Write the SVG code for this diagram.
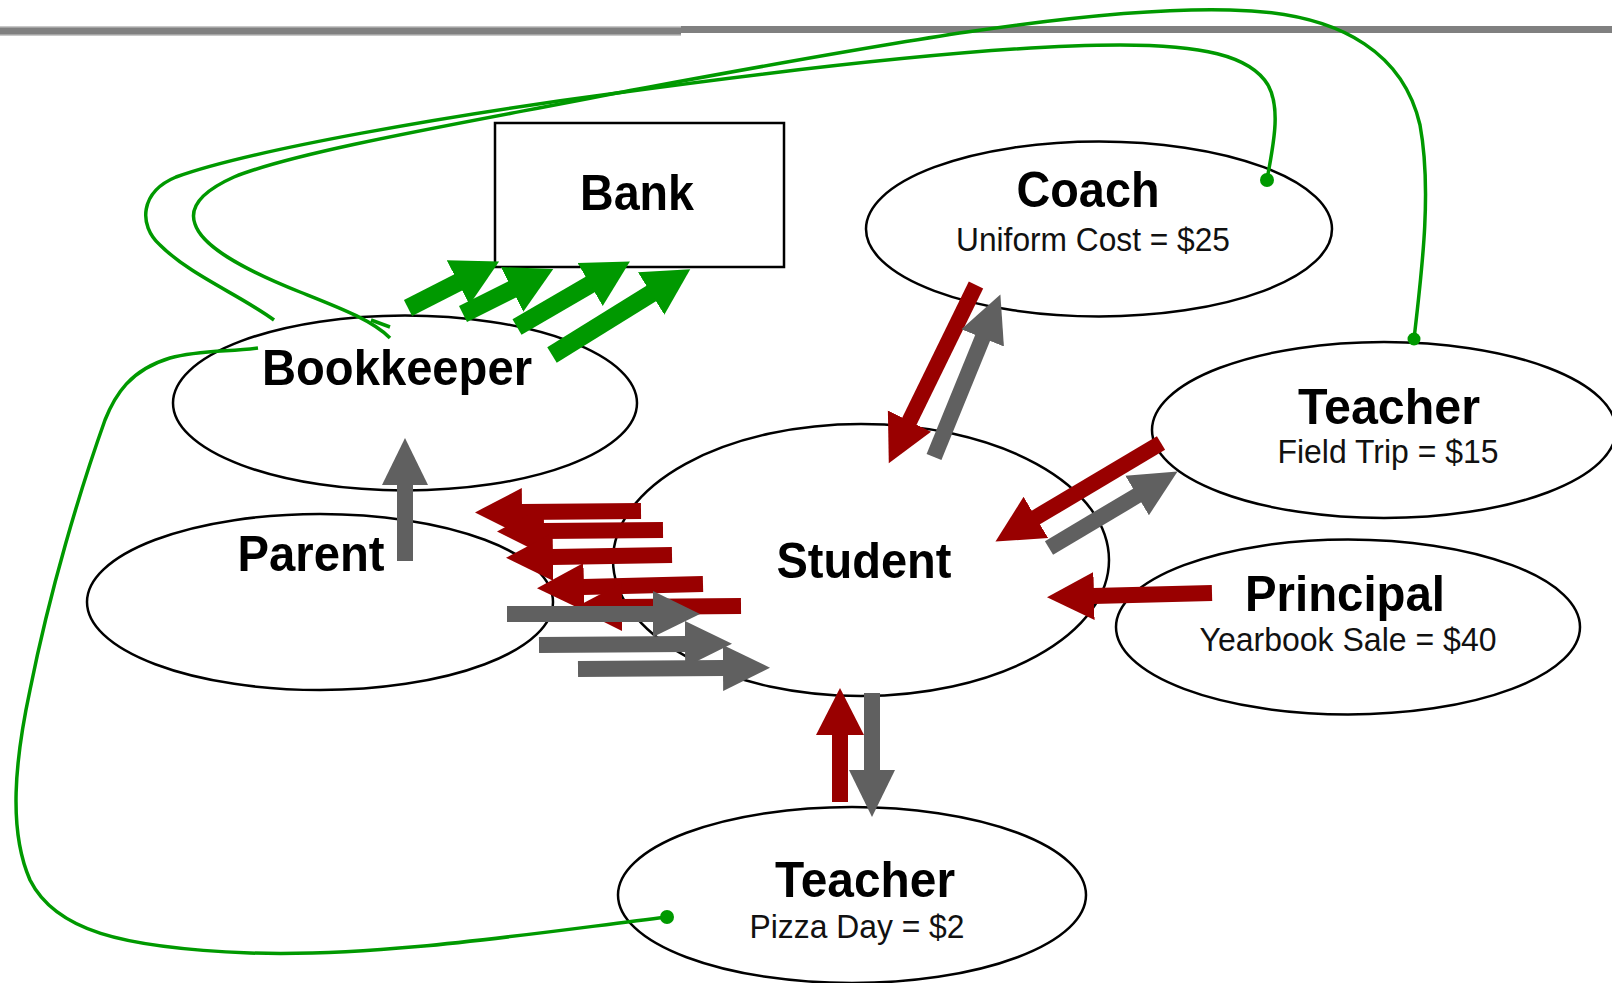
<svg xmlns="http://www.w3.org/2000/svg" width="1612" height="983" viewBox="0 0 1612 983">
<style>
.node{fill:#fff;stroke:#000;stroke-width:2.5}
.title{font-family:"Liberation Sans",Arial,sans-serif;font-weight:bold;font-size:50px;fill:#000;text-anchor:middle}
.sub{font-family:"Liberation Sans",Arial,sans-serif;font-size:33px;fill:#111;text-anchor:middle}
.red{stroke:#990000;stroke-width:16;fill:none;marker-end:url(#hRed)}
.gray{stroke:#606060;stroke-width:16;fill:none;marker-end:url(#hGray)}
.green{stroke:#009900;stroke-width:18;fill:none;marker-end:url(#hGreen)}
.wire{stroke:#009900;stroke-width:3.5;fill:none}
.dot{fill:#009900}
</style>
<defs>
<marker id="hRed" markerUnits="userSpaceOnUse" markerWidth="50" markerHeight="52" viewBox="0 -26 50 52" refX="1" refY="0" orient="auto"><path d="M0,-24 L47,0 L0,24 z" fill="#990000"/></marker>
<marker id="hGray" markerUnits="userSpaceOnUse" markerWidth="50" markerHeight="52" viewBox="0 -26 50 52" refX="1" refY="0" orient="auto"><path d="M0,-23 L47,0 L0,23 z" fill="#606060"/></marker>
<marker id="hGreen" markerUnits="userSpaceOnUse" markerWidth="50" markerHeight="54" viewBox="0 -27 50 54" refX="1" refY="0" orient="auto"><path d="M0,-25 L46,0 L0,25 z" fill="#009900"/></marker>
</defs>
<rect width="1612" height="983" fill="#fff"/>
<g id="topbar">
<rect x="0" y="26" width="681" height="10" fill="#c8c8c8"/>
<rect x="0" y="27.5" width="681" height="7" fill="#808080"/>
<rect x="681" y="26" width="931" height="7" fill="#808080"/>
</g>
<g id="bank"><rect class="node" x="495" y="123" width="289" height="144"/><text class="title" x="637" y="210" textLength="114" lengthAdjust="spacingAndGlyphs">Bank</text></g>
<g id="coach"><ellipse class="node" cx="1099" cy="229" rx="233" ry="87.5"/><text class="title" x="1088" y="207" textLength="143" lengthAdjust="spacingAndGlyphs">Coach</text><text class="sub" x="1093" y="251" textLength="274" lengthAdjust="spacingAndGlyphs">Uniform Cost = $25</text></g>
<g id="bookkeeper"><ellipse class="node" cx="405" cy="403" rx="232" ry="87.5"/><text class="title" x="397" y="385" textLength="270" lengthAdjust="spacingAndGlyphs">Bookkeeper</text></g>
<g id="parent"><ellipse class="node" cx="320" cy="602" rx="233" ry="88"/><text class="title" x="311" y="571" textLength="147" lengthAdjust="spacingAndGlyphs">Parent</text></g>
<g id="student"><ellipse class="node" cx="861" cy="560" rx="248" ry="136"/><text class="title" x="864" y="578" textLength="175" lengthAdjust="spacingAndGlyphs">Student</text></g>
<g id="teacher-trip"><ellipse class="node" cx="1384" cy="430" rx="232" ry="88"/><text class="title" x="1389" y="424" textLength="182" lengthAdjust="spacingAndGlyphs">Teacher</text><text class="sub" x="1388" y="463" textLength="221" lengthAdjust="spacingAndGlyphs">Field Trip = $15</text></g>
<g id="principal"><ellipse class="node" cx="1348" cy="627" rx="232" ry="87.5"/><text class="title" x="1345" y="611" textLength="200" lengthAdjust="spacingAndGlyphs">Principal</text><text class="sub" x="1348" y="651" font-size="31" textLength="297" lengthAdjust="spacingAndGlyphs">Yearbook Sale = $40</text></g>
<g id="teacher-pizza"><ellipse class="node" cx="852" cy="895" rx="234" ry="88"/><text class="title" x="865" y="897" textLength="180" lengthAdjust="spacingAndGlyphs">Teacher</text><text class="sub" x="857" y="938" textLength="215" lengthAdjust="spacingAndGlyphs">Pizza Day = $2</text></g>
<g id="connectors">
<line class="red" x1="641" y1="511" x2="521" y2="512"/>
<line class="red" x1="663" y1="530" x2="543" y2="531"/>
<line class="red" x1="672" y1="555" x2="552" y2="557"/>
<line class="red" x1="703" y1="584" x2="583" y2="587"/>
<line class="red" x1="741" y1="606" x2="621" y2="607"/>
<line class="gray" x1="507" y1="614" x2="654" y2="614"/>
<line class="gray" x1="539" y1="645" x2="686" y2="644"/>
<line class="gray" x1="578" y1="669" x2="724" y2="668"/>
<line class="gray" x1="405" y1="561" x2="405" y2="484"/>
<line class="green" x1="408" y1="308" x2="459" y2="282"/>
<line class="green" x1="463" y1="314" x2="513" y2="289"/>
<line class="green" x1="517" y1="327" x2="591" y2="284"/>
<line class="green" x1="552" y1="355" x2="652" y2="293"/>
<line class="red" x1="976" y1="285" x2="909" y2="422"/>
<line class="gray" x1="934" y1="457" x2="983" y2="337"/>
<line class="red" x1="1161" y1="443" x2="1035" y2="518"/>
<line class="gray" x1="1049" y1="548" x2="1138" y2="495"/>
<line class="red" x1="1212" y1="593" x2="1093" y2="596"/>
<line class="red" x1="840" y1="802" x2="840" y2="734"/>
<line class="gray" x1="872" y1="693" x2="872" y2="771"/>
<path class="wire" d="M1414,339 C1422,270 1432,190 1420,125 C1405,60 1350,12 1230,10 C1080,6 850,50 617,93 C480,120 300,150 234,177 C205,190 188,205 195,224 C202,246 240,268 300,292 C340,308 372,320 390,338"/>
<path class="wire" d="M371,320 L390,327"/>
<path class="wire" d="M1267,180 C1272,150 1282,110 1268,85 C1250,55 1200,45 1120,45 C1000,45 800,68 617,93 C450,115 250,150 176,177 C140,192 138,225 160,245 C190,275 240,295 274,320"/>
<path class="wire" d="M258,348 C230,352 200,350 170,358 C130,370 115,395 105,420 C80,490 50,590 30,690 C15,760 8,830 30,880 C55,930 120,948 250,953 C380,957 520,935 667,917"/>
<circle class="dot" cx="1414" cy="339" r="6.5"/>
<circle class="dot" cx="1267" cy="180" r="7"/>
<circle class="dot" cx="667" cy="917" r="7"/>
</g>
</svg>
